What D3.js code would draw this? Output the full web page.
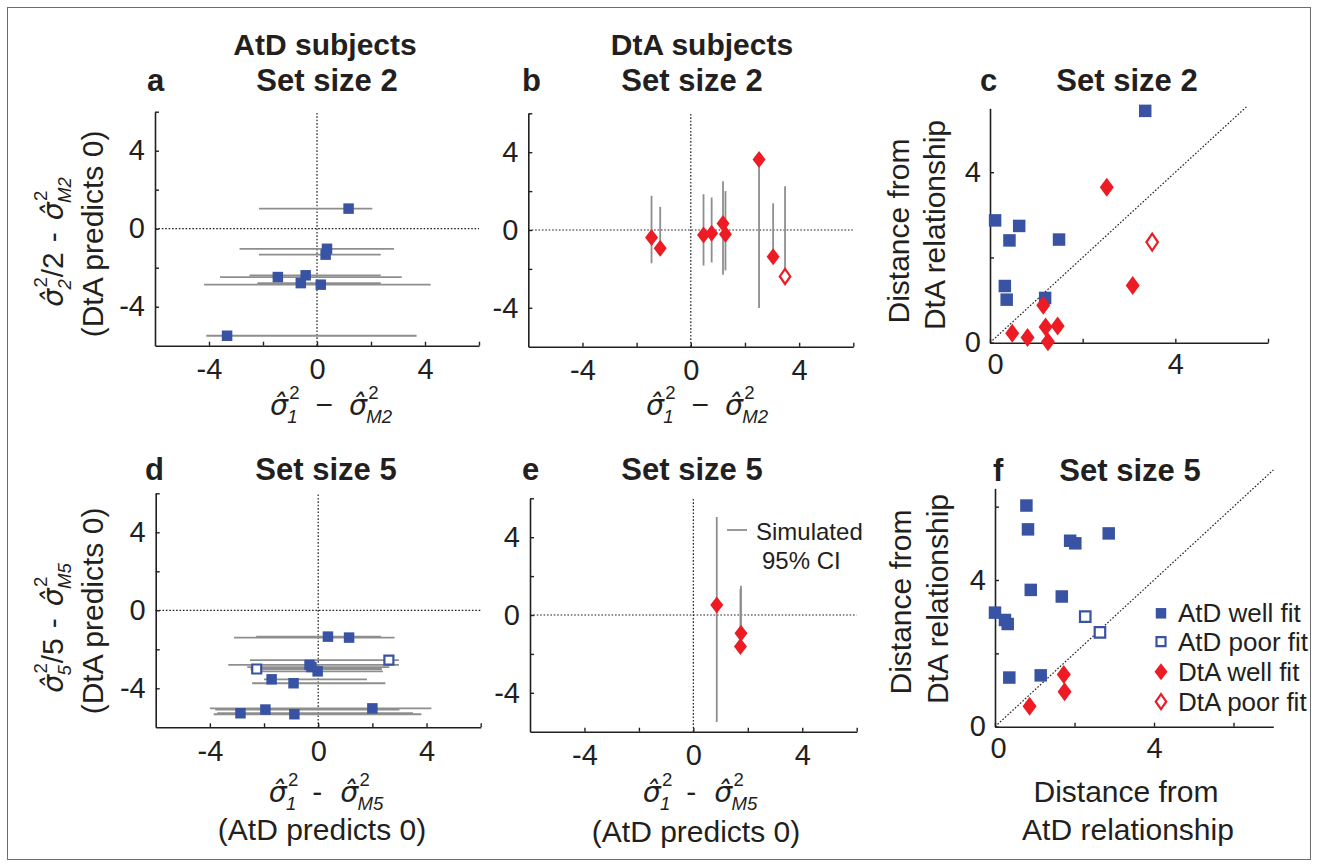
<!DOCTYPE html>
<html><head><meta charset="utf-8">
<script src="https://cdn.jsdelivr.net/npm/d3@7"></script>
<style>
html,body{margin:0;padding:0;background:#fff;}
svg text{font-family:"Liberation Sans", Arial, Helvetica, sans-serif; fill:#231f20;}
</style></head><body>
<svg id="chart" width="1318" height="867"></svg>
<script>
// ---------------- DATA ----------------
// Panel a: AtD subjects, set size 2 (point, horizontal 95% CI)
const aX  = [1.17, 0.37, 0.32, -1.45, -0.42, -0.60, 0.14, -3.33];
const aY  = [1.03, -1.03, -1.33, -2.48, -2.39, -2.79, -2.87, -5.49];
const aLo = [-2.15, -2.87, -2.15, -3.59, -2.50, -2.21, -4.18, -4.10];
const aHi = [2.05, 2.85, 2.36, 3.14, 2.36, 2.36, 4.21, 3.69];
const aFit = ["well","well","well","well","well","well","well","well"];

// Panel b: DtA subjects, set size 2 (point, vertical 95% CI)
const bX  = [-1.45, -1.13, 0.47, 0.77, 1.19, 1.28, 2.52, 3.04, 3.48];
const bY  = [-0.38, -0.94, -0.26, -0.17, 0.34, -0.22, 3.63, -1.37, -2.39];
const bLo = [-1.71, -1.28, -1.83, -1.67, -2.30, -2.08, -4.01, -1.37, -2.39];
const bHi = [1.76, 1.19, 1.84, 1.67, 2.51, 2.00, 3.63, 1.37, 2.25];
const bFit = ["well","well","well","well","well","well","well","well","poor"];

// Panel c: distances, set size 2
const cAtdX = [3.35, 0.11, 0.63, 0.42, 1.49, 0.32, 0.36, 1.19];
const cAtdY = [5.44, 2.87, 2.74, 2.40, 2.42, 1.33, 1.01, 1.05];
const cAtdFit = ["well","well","well","well","well","well","well","well"];
const cDtaX = [2.52, 3.08, 1.15, 0.48, 0.81, 1.20, 1.46, 1.25, 3.50];
const cDtaY = [3.65, 1.34, 0.88, 0.22, 0.12, 0.37, 0.39, 0.02, 2.36];
const cDtaFit = ["well","well","well","well","well","well","well","well","poor"];

// Panel d: AtD subjects, set size 5
const dX  = [0.36, 1.14, 2.61, -0.32, -0.25, -2.27, -0.02, -1.72, -0.91, 2.00, -1.95, -2.87, -0.88];
const dY  = [-1.35, -1.40, -2.55, -2.80, -2.91, -3.01, -3.13, -3.54, -3.74, -5.03, -5.09, -5.28, -5.33];
const dLo = [-2.29, -3.11, -2.52, -3.32, -2.62, -2.50, -2.44, -2.00, -2.44, -4.00, -3.80, -3.73, -3.86];
const dHi = [2.32, 2.82, 2.98, 2.98, 2.63, 2.35, 2.39, 1.80, 2.48, 4.18, 3.00, 3.50, 3.81];
const dFit = ["well","well","poor","well","well","poor","well","well","well","well","well","well","well"];

// Panel e: DtA subjects, set size 5
const eX  = [0.86, 1.75, 1.73];
const eY  = [0.51, -0.94, -1.62];
const eLo = [-5.50, -0.94, -1.62];
const eHi = [5.04, 1.50, 1.35];
const eFit = ["well","well","well"];

// Panel f: distances, set size 5
const fAtdX = [0.79, 0.83, 1.89, 2.02, 2.86, 0.90, 1.68, 0.00, 0.25, 0.32, 0.36, 1.15, 2.27, 2.64];
const fAtdY = [6.03, 5.38, 5.07, 5.00, 5.27, 3.73, 3.55, 3.11, 2.91, 2.80, 1.34, 1.40, 3.00, 2.57];
const fAtdFit = ["well","well","well","well","well","well","well","well","well","well","well","well","poor","poor"];
const fDtaX = [0.87, 1.73, 1.75];
const fDtaY = [0.56, 1.42, 0.95];
const fDtaFit = ["well","well","well"];

// Ticks
const symTicks = [-4, -2, 0, 2, 4, 6];
const symLabels = [-4, 0, 4];
const distTicksC = [0, 2, 4, 6];
const distTicksCy = [0, 2, 4];
const distTicksF = [0, 2, 4, 6];
const distLabels = [0, 4];
const legendLabels = ["AtD well fit", "AtD poor fit", "DtA well fit", "DtA poor fit"];

// ---------------- STYLE ----------------
const BLUE = "#3953a4", RED = "#ed1c24", GRAY = "#8e8e8e", INK = "#231f20";
const FONT = '"Liberation Sans", Arial, Helvetica, sans-serif';
const MATHFONT = '"DejaVu Sans", sans-serif';
const svg = d3.select("#chart");

svg.append("rect").attr("x", 7.5).attr("y", 7.5).attr("width", 1303).attr("height", 852)
  .attr("fill", "none").attr("stroke", "#6d6d6d").attr("stroke-width", 1);

function mkScales(P) {
  return {x: d3.scaleLinear().domain(P.xd).range(P.xr), y: d3.scaleLinear().domain(P.yd).range(P.yr)};
}
function drawAxes(g, x, y, P) {
  const fmt = L => d => L.includes(d) ? String(d) : "";
  const xa = g.append("g").attr("transform", `translate(0,${y.range()[0]})`)
    .call(d3.axisBottom(x).tickValues(P.xt).tickSize(-4).tickSizeOuter(0).tickPadding(P.xpad || 12).tickFormat(fmt(P.xl)));
  const ya = g.append("g").attr("transform", `translate(${x.range()[0]},0)`)
    .call(d3.axisLeft(y).tickValues(P.yt).tickSize(-4).tickSizeOuter(0).tickPadding(P.ypad || 10).tickFormat(fmt(P.yl)));
  [xa, ya].forEach(a => {
    a.attr("font-size", 29).attr("font-family", FONT).attr("color", INK);
    a.select(".domain").attr("stroke-width", 1.6);
    a.selectAll(".tick line").attr("stroke-width", 1.4);
    a.selectAll(".tick text").attr("fill", INK);
  });
  if (P.zeroShift) xa.selectAll(".tick text").filter(d => d === 0).attr("dx", P.zeroShift);
}
function dotted(g, x1, y1, x2, y2) {
  g.append("line").attr("x1", x1).attr("y1", y1).attr("x2", x2).attr("y2", y2)
    .attr("stroke", INK).attr("stroke-width", 1.2).attr("stroke-dasharray", "1.6,1.8");
}
function squarePath(s) { const h = s / 2; return `M${-h},${-h}H${h}V${h}H${-h}Z`; }
function diamondPath(w, h) { return `M0,${-h / 2}L${w / 2},0L0,${h / 2}L${-w / 2},0Z`; }
function marker(g, cx, cy, shape, fit, big) {
  const col = shape === "sq" ? BLUE : RED;
  const open = fit === "poor";
  let d;
  if (shape === "sq") d = squarePath(open ? (big ? 10.5 : 9) : (big ? 12.5 : 10.5));
  else d = open ? diamondPath(big ? 11.5 : 10.5, big ? 17 : 15) : diamondPath(big ? 14 : 13, big ? 19 : 17);
  g.append("path").attr("d", d).attr("transform", `translate(${cx},${cy})`)
    .attr("fill", open ? "#fff" : col).attr("stroke", open ? col : "none").attr("stroke-width", open ? 2.2 : 0);
}

// ---- math label helper: one <text> with absolutely positioned tspans ----
function measure(str, fs, italic, family) {
  const t = svg.append("text").attr("font-size", fs).text(str);
  if (italic) t.attr("font-style", "italic");
  if (family) t.attr("font-family", family);
  const w = t.node().getComputedTextLength();
  t.remove();
  return w;
}
const SIG = "σ\u0302";   // sigma with combining circumflex (hat)
function placeMath(parts, cx, baseY, fs, rotate) {
  const subFs = fs * 0.62;
  const sigFs = fs * 0.95;
  const items = [];
  let x = 0;
  parts.forEach(p => {
    if (p.gap) { x += p.gap; return; }
    if (p.s) {
      const w = measure(SIG, sigFs, true, MATHFONT);
      items.push({t: SIG, x, y: 0, fs: sigFs, it: true, fam: MATHFONT});
      let ew = 0;
      if (p.sup) { items.push({t: p.sup, x: x + w + 2, y: -fs * 0.55, fs: subFs}); ew = Math.max(ew, measure(p.sup, subFs) + 2); }
      if (p.sub) { items.push({t: p.sub, x: x + w, y: fs * 0.28, fs: subFs, it: true}); ew = Math.max(ew, measure(p.sub, subFs, true)); }
      x += w + ew;
    } else {
      items.push({t: p.t, x, y: 0, fs});
      x += measure(p.t, fs);
    }
  });
  const outer = svg.append("g")
    .attr("transform", rotate ? `translate(${cx},${baseY}) rotate(-90)` : `translate(${cx},${baseY})`);
  const text = outer.append("text").attr("font-size", fs);
  items.forEach(it => {
    const ts = text.append("tspan").attr("x", it.x - x / 2).attr("y", it.y).attr("font-size", it.fs).text(it.t);
    if (it.it) ts.attr("font-style", "italic");
    if (it.fam) ts.attr("font-family", it.fam);
  });
}
function plainText(txt, x, y, fs, opts = {}) {
  const t = svg.append("text").attr("x", x).attr("y", y).attr("font-size", fs).text(txt)
    .attr("text-anchor", opts.anchor || "start");
  if (opts.bold) t.attr("font-weight", "bold");
  if (opts.rotate) t.attr("transform", `rotate(-90,${x},${y})`);
  return t;
}

// ---------------- PANELS ----------------
function errorPanel(P, xs, ys, lo, hi, fit, shape, horiz) {
  const {x, y} = mkScales(P);
  const g = svg.append("g");
  dotted(g, x(0), y.range()[0], x(0), y.range()[1]);
  dotted(g, x.range()[0], y(0), x.range()[1], y(0));
  xs.forEach((v, i) => {
    const l = g.append("line").attr("stroke", GRAY).attr("stroke-width", 1.8);
    if (horiz) l.attr("x1", x(lo[i])).attr("x2", x(hi[i])).attr("y1", y(ys[i])).attr("y2", y(ys[i]));
    else l.attr("x1", x(v)).attr("x2", x(v)).attr("y1", y(lo[i])).attr("y2", y(hi[i]));
  });
  drawAxes(g, x, y, P);
  xs.forEach((v, i) => marker(g, x(v), y(ys[i]), shape, fit[i], false));
  return {x, y, g};
}
function distPanel(P, ax, ay, afit, dx, dy, dfit, diagMax) {
  const {x, y} = mkScales(P);
  const g = svg.append("g");
  dotted(g, x(0), y(0), x(diagMax), y(diagMax));
  drawAxes(g, x, y, P);
  ax.forEach((v, i) => marker(g, x(v), y(ay[i]), "sq", afit[i], true));
  dx.forEach((v, i) => marker(g, x(v), y(dy[i]), "dm", dfit[i], true));
  return {x, y, g};
}

const PA = {xd: [-6, 6], yd: [-6, 6], xr: [155, 479], yr: [345.7, 111.7], xt: symTicks, yt: symTicks, xl: symLabels, yl: symLabels, xpad: 13};
const PB = {xd: [-6, 6], yd: [-6, 6], xr: [528.3, 853.3], yr: [346.7, 113.3], xt: symTicks, yt: symTicks, xl: symLabels, yl: symLabels, xpad: 13};
const PC = {xd: [0, 6], yd: [0, 5.5], xr: [990, 1268], yr: [342.7, 108.3], xt: distTicksC, yt: distTicksCy, xl: distLabels, yl: distLabels, xpad: 11, ypad: 9, zeroShift: 5};
const PD = {xd: [-6, 6], yd: [-6, 6], xr: [155.7, 480.7], yr: [727.3, 493.3], xt: symTicks, yt: symTicks, xl: symLabels, yl: symLabels, xpad: 13};
const PE = {xd: [-6, 6], yd: [-6, 6], xr: [530, 856.7], yr: [731.7, 498.3], xt: symTicks, yt: symTicks, xl: symLabels, yl: symLabels, xpad: 13};
const PF = {xd: [0, 7], yd: [0, 6.5], xr: [995, 1273.3], yr: [726.7, 488.3], xt: distTicksF, yt: distTicksF, xl: distLabels, yl: distLabels, xpad: 11, ypad: 9, zeroShift: 3};

errorPanel(PA, aX, aY, aLo, aHi, aFit, "sq", true);
errorPanel(PB, bX, bY, bLo, bHi, bFit, "dm", false);
distPanel(PC, cAtdX, cAtdY, cAtdFit, cDtaX, cDtaY, cDtaFit, 5.55);
errorPanel(PD, dX, dY, dLo, dHi, dFit, "sq", true);
errorPanel(PE, eX, eY, eLo, eHi, eFit, "dm", false);
distPanel(PF, fAtdX, fAtdY, fAtdFit, fDtaX, fDtaY, fDtaFit, 7);

// e legend
svg.append("line").attr("x1", 727).attr("x2", 747).attr("y1", 530).attr("y2", 530).attr("stroke", GRAY).attr("stroke-width", 1.8);
plainText("Simulated", 756, 540, 24);
plainText("95% CI", 762, 569, 24);

// f legend
const legShapes = [["sq", "well"], ["sq", "poor"], ["dm", "well"], ["dm", "poor"]];
const legY = [613.3, 641.7, 671.7, 701.7];
legendLabels.forEach((lab, i) => {
  const lg = svg.append("g");
  marker(lg, 1161, legY[i], legShapes[i][0], legShapes[i][1], false);
  plainText(lab, 1178, legY[i] + 9, 26);
});

// ---------------- TEXT ----------------
plainText("AtD subjects", 325, 55, 30, {anchor: "middle", bold: true});
plainText("DtA subjects", 702, 55, 30, {anchor: "middle", bold: true});
plainText("Set size 2", 327, 91, 31, {anchor: "middle", bold: true});
plainText("Set size 2", 692, 91, 31, {anchor: "middle", bold: true});
plainText("Set size 2", 1127, 91, 31, {anchor: "middle", bold: true});
plainText("Set size 5", 326, 480, 31, {anchor: "middle", bold: true});
plainText("Set size 5", 692, 480, 31, {anchor: "middle", bold: true});
plainText("Set size 5", 1130, 481, 31, {anchor: "middle", bold: true});
plainText("a", 147, 91, 31, {bold: true});
plainText("b", 522, 91, 31, {bold: true});
plainText("c", 980, 91, 31, {bold: true});
plainText("d", 145, 480, 31, {bold: true});
plainText("e", 522, 480, 31, {bold: true});
plainText("f", 993, 481, 31, {bold: true});

// x-axis math labels
const lblA = [{s: 1, sup: "2", sub: "1"}, {gap: 16}, {t: "−"}, {gap: 16}, {s: 1, sup: "2", sub: "M2"}];
const lblD = [{s: 1, sup: "2", sub: "1"}, {gap: 14}, {t: "-"}, {gap: 18}, {s: 1, sup: "2", sub: "M5"}];
placeMath(lblA, 331, 415, 30, false);
placeMath(lblA, 707, 415, 30, false);
placeMath(lblD, 326, 802, 30, false);
placeMath(lblD, 700, 802, 30, false);
plainText("(AtD predicts 0)", 322, 840, 30, {anchor: "middle"});
plainText("(AtD predicts 0)", 696, 842, 30, {anchor: "middle"});

// y-axis math labels (rotated)
const lblAy = [{s: 1, sup: "2", sub: "2"}, {t: "/2"}, {gap: 10}, {t: "-"}, {gap: 12}, {s: 1, sup: "2", sub: "M2"}];
const lblDy = [{s: 1, sup: "2", sub: "5"}, {t: "/5"}, {gap: 10}, {t: "-"}, {gap: 12}, {s: 1, sup: "2", sub: "M5"}];
placeMath(lblAy, 63, 242, 30, true);
placeMath(lblDy, 63, 628, 30, true);
plainText("(DtA predicts 0)", 103, 234, 30, {anchor: "middle", rotate: true});
plainText("(DtA predicts 0)", 103, 611, 30, {anchor: "middle", rotate: true});

// distance labels
plainText("Distance from", 909, 231, 30, {anchor: "middle", rotate: true});
plainText("DtA relationship", 945, 225, 30, {anchor: "middle", rotate: true});
plainText("Distance from", 911, 602, 30, {anchor: "middle", rotate: true});
plainText("DtA relationship", 948, 599, 30, {anchor: "middle", rotate: true});
plainText("Distance from", 1126, 802, 30, {anchor: "middle"});
plainText("AtD relationship", 1128, 840, 30, {anchor: "middle"});
</script></body></html>
